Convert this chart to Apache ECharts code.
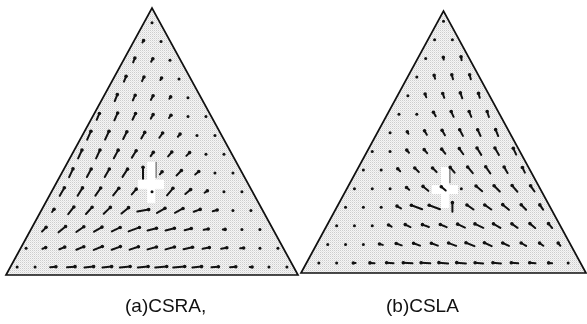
<!DOCTYPE html>
<html>
<head>
<meta charset="utf-8">
<script src="https://cdn.jsdelivr.net/npm/echarts@6/dist/echarts.min.js"></script>
<style>
  html, body { margin: 0; padding: 0; background: #fff; }
  #chart { width: 587px; height: 324px; }
</style>
</head>
<body>
<div id="chart"></div>
<script>
// Panel captions
const captions = ['(a)CSRA,', '(b)CSLA'];

// Vector field of panel (a): arrow magnitude per lattice row (bottom row first)
const lenA = [
  [1, 1, 5, 7, 8, 8, 9, 9, 10, 10, 8, 6, 5, 2, 1, 1],
  [1, 3, 5, 7, 8, 8, 8, 8, 8, 8, 6, 5, 3, 1, 1],
  [5, 8, 8, 8, 8, 10, 8, 8, 6, 4, 2, 1, 1],
  [3, 8, 8, 8, 8, 10, 8, 8, 6, 4, 1, 1],
  [8, 8, 8, 8, 6, 1, 8, 6, 3, 1, 1],
  [8, 8, 8, 8, 10, 3, 6, 4, 1, 1],
  [8, 8, 8, 7, 4, 5, 4, 1, 1],
  [8, 8, 7, 6, 5, 3, 1, 1],
  [6, 7, 6, 4, 3, 1, 1],
  [6, 5, 4, 2, 1],
  [5, 4, 2, 1],
  [4, 3, 1],
  [2, 1],
  [1]
];
// Arrow direction in degrees (counter-clockwise from +x) for panel (a)
const angA = [
  [0, 0, 5, 5, 5, 5, 5, 5, 5, 5, 5, 5, 5, 0, 0, 0],
  [20, 20, 22, 22, 22, 20, 18, 15, 15, 12, 10, 10, 5, 0, 0],
  [45, 40, 35, 30, 25, 20, 15, 15, 15, 10, 0, 0, 0],
  [55, 52, 48, 44, 40, 10, 30, 28, 20, 15, 0, 0],
  [60, 58, 55, 52, 50, 0, 50, 40, 35, 0, 0],
  [65, 62, 60, 57, 90, 50, 45, 40, 0, 0],
  [65, 65, 62, 58, 55, 50, 45, 0, 0],
  [66, 65, 63, 60, 55, 50, 0, 0],
  [67, 66, 64, 60, 55, 0, 0],
  [68, 66, 62, 55, 0],
  [68, 65, 60, 0],
  [68, 60, 0],
  [60, 0],
  [0]
];

// Vector field of panel (b)
const lenB = [
  [1, 1, 2, 4, 6, 8, 8, 8, 8, 7, 7, 6, 5, 3, 1],
  [1, 1, 1, 3, 5, 6, 6, 7, 8, 7, 6, 5, 4, 3],
  [1, 1, 1, 3, 5, 6, 6, 7, 8, 7, 6, 6, 5],
  [1, 1, 1, 4, 10, 10, 8, 7, 7, 7, 6, 5],
  [1, 1, 1, 3, 6, 5, 1, 7, 7, 7, 6],
  [1, 1, 3, 5, 5, 6, 7, 7, 6, 5],
  [1, 1, 3, 4, 5, 6, 7, 7, 6],
  [1, 2, 4, 5, 6, 6, 6],
  [1, 1, 4, 5, 5, 5],
  [1, 3, 4, 5, 4],
  [1, 3, 4, 4],
  [1, 2, 3],
  [1, 1],
  [1]
];
const angB = [
  [0, 0, 178, 176, 176, 176, 176, 175, 175, 175, 175, 175, 175, 175, 0],
  [0, 0, 0, 165, 162, 160, 160, 160, 158, 155, 155, 150, 145, 130],
  [0, 0, 0, 150, 155, 160, 158, 155, 155, 150, 145, 140, 130],
  [0, 0, 0, 150, 160, 160, 90, 145, 145, 140, 135, 125],
  [0, 0, 0, 140, 140, 140, 0, 140, 135, 130, 125],
  [0, 0, 135, 135, 135, 130, 130, 125, 120, 115],
  [0, 0, 130, 130, 128, 125, 122, 120, 115],
  [0, 120, 120, 120, 118, 115, 112],
  [0, 0, 120, 115, 112, 108],
  [0, 110, 110, 110, 105],
  [0, 105, 105, 105],
  [0, 100, 100],
  [0, 0],
  [0]
];

// Fixed point marked with a cross in each panel (triangle data coordinates)
const crossA = [0.497, 0.345];
const crossB = [0.505, 0.324];

// Triangle outline in data coordinates (base 0..1, apex at top)
const triangle = [[0, 0], [1, 0], [0.5, 1]];

// Lattice layout (fractions of each panel's base / height)
const latticeA = { rowBase: 0.030, rowStep: 0.0704, colStep: 0.0616 };
const latticeB = { rowBase: 0.038, rowStep: 0.0710, colStep: 0.0625 };

// Pixels drawn per unit of arrow magnitude
const ARROW_SCALE = 1.15;

function latticeData(lens, angs, lat) {
  const out = [];
  lens.forEach(function (row, r) {
    const n = row.length;
    row.forEach(function (len, c) {
      const x = 0.5 + (c - (n - 1) / 2) * lat.colStep;
      const y = lat.rowBase + r * lat.rowStep;
      out.push([x, y, len, angs[r][c]]);
    });
  });
  return out;
}

// Halftone-like grey fill
function makePattern() {
  const cv = document.createElement('canvas');
  cv.width = 2; cv.height = 2;
  const ctx = cv.getContext('2d');
  ctx.fillStyle = '#f5f5f5'; ctx.fillRect(0, 0, 2, 2);
  ctx.fillStyle = '#cdcdcd'; ctx.fillRect(0, 0, 1, 1);
  ctx.fillStyle = '#e4e4e4'; ctx.fillRect(1, 1, 1, 1);
  return { image: cv, repeat: 'repeat' };
}
const fillPattern = makePattern();

function renderTriangle(params, api) {
  const pts = triangle.map(function (p) { return api.coord(p); });
  return {
    type: 'polygon',
    shape: { points: pts },
    style: { fill: fillPattern, stroke: '#111', lineWidth: 1.7, lineJoin: 'miter' }
  };
}

function renderArrow(params, api) {
  const p = api.coord([api.value(0), api.value(1)]);
  const len = api.value(2) * ARROW_SCALE;
  const a = api.value(3) * Math.PI / 180;
  if (api.value(2) <= 1.5) {
    return { type: 'circle', shape: { cx: p[0], cy: p[1], r: 1.5 }, style: { fill: '#111' } };
  }
  const dx = Math.cos(a) * len / 2;
  const dy = -Math.sin(a) * len / 2;
  return {
    type: 'group',
    children: [
      { type: 'line', shape: { x1: p[0] - dx, y1: p[1] - dy, x2: p[0] + dx, y2: p[1] + dy },
        style: { stroke: '#111', lineWidth: 2, lineCap: 'round' } },
      { type: 'circle', shape: { cx: p[0] + dx, cy: p[1] + dy, r: 1.8 }, style: { fill: '#111' } }
    ]
  };
}

function renderCross(params, api) {
  const p = api.coord([api.value(0), api.value(1)]);
  return {
    type: 'group',
    children: [
      { type: 'rect', shape: { x: p[0] - 4, y: p[1] - 21, width: 8, height: 41 }, style: { fill: '#fff' } },
      { type: 'rect', shape: { x: p[0] - 13, y: p[1] - 3, width: 26, height: 9 }, style: { fill: '#fff' } },
      { type: 'line', shape: { x1: p[0] + 5, y1: p[1] - 21, x2: p[0] + 5, y2: p[1] - 5 },
        style: { stroke: '#333', lineWidth: 0.8 } }
    ]
  };
}

const chart = echarts.init(document.getElementById('chart'), null, { renderer: 'canvas' });

const hiddenAxis = { type: 'value', min: 0, max: 1, show: false };

chart.setOption({
  animation: false,
  backgroundColor: '#fff',
  grid: [
    { left: 6, top: 8, width: 292, height: 267 },
    { left: 301, top: 11, width: 285, height: 262 }
  ],
  xAxis: [Object.assign({ gridIndex: 0 }, hiddenAxis), Object.assign({ gridIndex: 1 }, hiddenAxis)],
  yAxis: [Object.assign({ gridIndex: 0 }, hiddenAxis), Object.assign({ gridIndex: 1 }, hiddenAxis)],
  graphic: [
    { type: 'text', left: 125, top: 297,
      style: { text: captions[0], font: '19px "Liberation Sans", Arial, sans-serif', fill: '#111' } },
    { type: 'text', left: 386, top: 297,
      style: { text: captions[1], font: '19px "Liberation Sans", Arial, sans-serif', fill: '#111' } }
  ],
  series: [
    { type: 'custom', xAxisIndex: 0, yAxisIndex: 0, data: [[0, 0]], renderItem: renderTriangle, silent: true, clip: false, z: 1 },
    { type: 'custom', xAxisIndex: 1, yAxisIndex: 1, data: [[0, 0]], renderItem: renderTriangle, silent: true, clip: false, z: 1 },
    { type: 'custom', xAxisIndex: 0, yAxisIndex: 0, data: [crossA], renderItem: renderCross, silent: true, clip: false, z: 2 },
    { type: 'custom', xAxisIndex: 1, yAxisIndex: 1, data: [crossB], renderItem: renderCross, silent: true, clip: false, z: 2 },
    { type: 'custom', xAxisIndex: 0, yAxisIndex: 0, data: latticeData(lenA, angA, latticeA),
      encode: { x: 0, y: 1 }, renderItem: renderArrow, silent: true, clip: false, z: 3 },
    { type: 'custom', xAxisIndex: 1, yAxisIndex: 1, data: latticeData(lenB, angB, latticeB),
      encode: { x: 0, y: 1 }, renderItem: renderArrow, silent: true, clip: false, z: 3 }
  ]
});
</script>
</body>
</html>
